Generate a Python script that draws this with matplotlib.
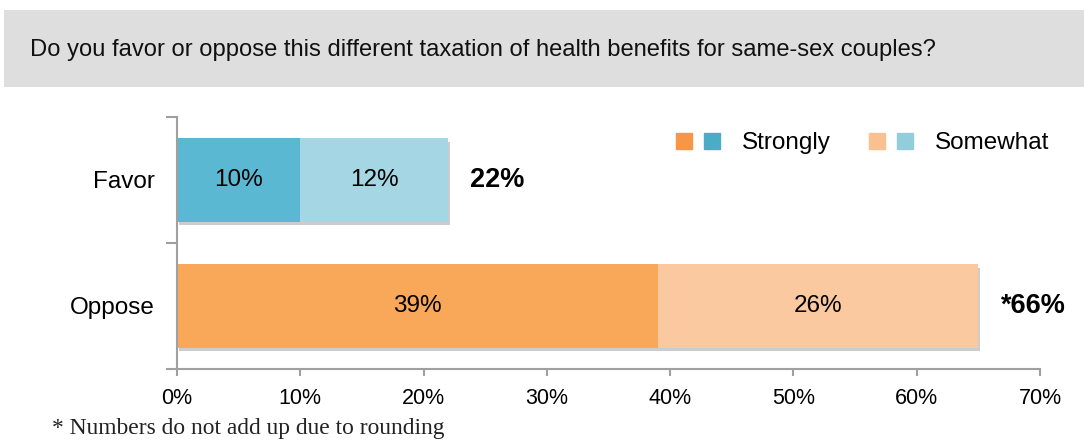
import matplotlib.pyplot as plt
from matplotlib.lines import Line2D
from matplotlib.patches import Rectangle
from matplotlib.legend_handler import HandlerTuple
import matplotlib.patheffects as pe

plt.rcParams['font.family'] = ['Liberation Sans', 'DejaVu Sans']

question = "Do you favor or oppose this different taxation of health benefits for same-sex couples?"
categories = ["Oppose", "Favor"]
strongly = [39, 10]
somewhat = [26, 12]
totals = ["*66%", "22%"]
xticks = [0, 10, 20, 30, 40, 50, 60, 70]
note = "* Numbers do not add up due to rounding"

strong_colors = ["#F9A85A", "#5BB8D3"]
some_colors = ["#FBC9A0", "#A4D6E4"]

fig = plt.figure(figsize=(10.84, 4.41), dpi=100)

# header band with the question
fig.patches.append(Rectangle((0.004, 0.803), 0.996, 0.175, transform=fig.transFigure,
                             facecolor="#DEDEDE", edgecolor="none", zorder=0))
fig.text(0.028, 0.886, question, fontsize=17.1, va="center", ha="left", color="#111111")

ax = fig.add_axes([0.1633, 0.1633, 0.7961, 0.5714])
shadow = [pe.SimplePatchShadow(offset=(1.5, -2.5), shadow_rgbFace="#000000", alpha=0.2), pe.Normal()]
ypos = range(len(categories))
for i in ypos:
    b1 = ax.barh(i, strongly[i], height=0.66, color=strong_colors[i], zorder=2)
    b2 = ax.barh(i, somewhat[i], left=strongly[i], height=0.66, color=some_colors[i], zorder=2)
    for b in list(b1) + list(b2):
        b.set_path_effects(shadow)
    ax.text(strongly[i] / 2, i, f"{strongly[i]}%", ha="center", va="center", fontsize=17.5, zorder=3)
    ax.text(strongly[i] + somewhat[i] / 2, i, f"{somewhat[i]}%", ha="center", va="center",
            fontsize=17.5, zorder=3)
    end = strongly[i] + somewhat[i]
    ax.annotate(totals[i], (end, i), xytext=(16, 0), textcoords="offset points",
                ha="left", va="center", fontsize=19.5, fontweight="bold")

ax.set_xlim(0, 70)
ax.set_ylim(-0.5, 1.5)
ax.set_xticks(xticks)
ax.set_xticklabels([f"{t}%" for t in xticks], fontsize=15.5)
ax.set_yticks(list(ypos))
ax.set_yticklabels(categories, fontsize=17.5)
ax.set_yticks([-0.5, 0.5, 1.5], minor=True)
ax.tick_params(axis="y", which="major", length=0, pad=16)
ax.tick_params(axis="y", which="minor", length=8, color="#A0A0A0", width=1.5)
ax.tick_params(axis="x", length=5, color="#A0A0A0", width=1.5, pad=9)
for s in ["top", "right"]:
    ax.spines[s].set_visible(False)
for s in ["left", "bottom"]:
    ax.spines[s].set_color("#A0A0A0")
    ax.spines[s].set_linewidth(1.5)

handles = [
    (Line2D([], [], marker="s", ls="", ms=11.5, color="#F79646"),
     Line2D([], [], marker="s", ls="", ms=11.5, color="#4BACC6")),
    (Line2D([], [], marker="s", ls="", ms=11.5, color="#FAC090"),
     Line2D([], [], marker="s", ls="", ms=11.5, color="#92CDDC")),
]
fig.legend(handles, ["Strongly", "Somewhat"], handler_map={tuple: HandlerTuple(ndivide=None, pad=0.9)},
           loc="center left", bbox_to_anchor=(0.608, 0.675), ncol=2, frameon=False,
           fontsize=17.5, handlelength=1.4, columnspacing=1.8, handletextpad=1.1)

fig.text(0.048, 0.004, note, fontsize=16.9, va="bottom",
         family=["Liberation Serif", "DejaVu Serif"], color="#222222")

fig.savefig("out.png", dpi=100)
